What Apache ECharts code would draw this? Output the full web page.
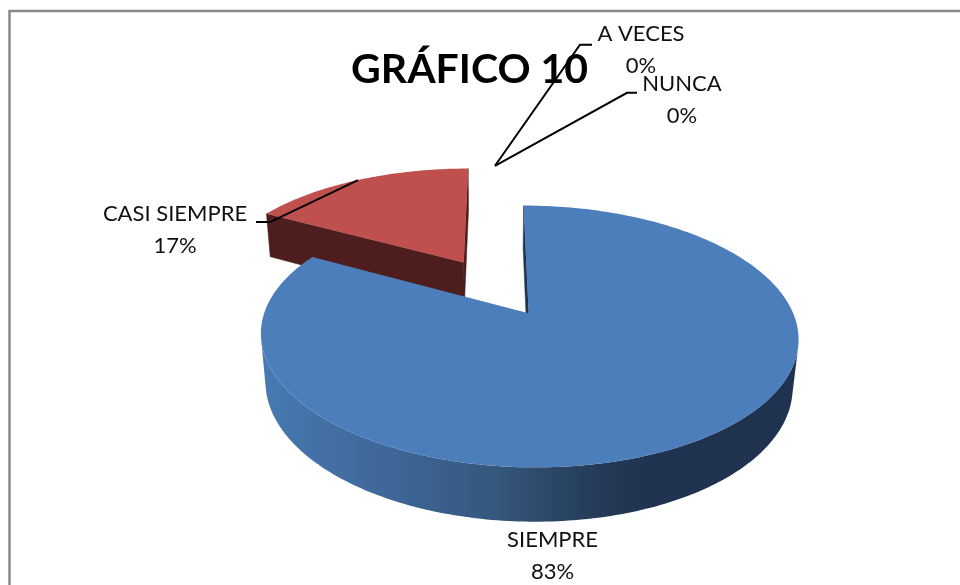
<!DOCTYPE html>
<html>
<head>
<meta charset="utf-8">
<title>GRÁFICO 10</title>
<script src="https://cdn.jsdelivr.net/npm/echarts@6/dist/echarts.min.js"></script>
<style>
  html, body { margin: 0; padding: 0; background: #fff; }
  #chart { width: 960px; height: 585px; }
</style>
</head>
<body>
<div id="chart"></div>
<script>
// data
const categories = ['SIEMPRE', 'CASI SIEMPRE', 'A VECES', 'NUNCA'];
const values = [83, 17, 0, 0];
const percentLabels = ['83%', '17%', '0%', '0%'];

// slice colours: top face, cut face
const topColors = ['#4c7ebb', '#c0504d', '#9bbb59', '#8064a2'];
const faceColors = ['#1f3350', '#4d1e1d', '#4d5e2c', '#403251'];

// label placement, offsets from the slice's outer edge at its mid angle
const labelLayout = [
  { leader: null, tx: -141, ty: 106 },
  { leader: [[-88, 42], [-102, 42]], tx: -183, ty: 42 },
  { leader: [[85, -121], [97, -121]], tx: 146, ty: -123 },
  { leader: [[132, -73], [142, -73]], tx: 187, ty: -73 }
];

// simple perspective camera for the 3D pie
const view = {
  cx: 495, cy: 287, F: 1325, D: 5.2,
  tilt: 27.5 * Math.PI / 180, H: 0.21, explode: 0.25
};
const ca = Math.cos(view.tilt), sa = Math.sin(view.tilt);
const cam = [0, view.D * sa, view.D * ca];

function project(X, Y, Z) {
  const yc = Y * ca - Z * sa;
  const d = view.D - (Z * ca + Y * sa);
  return [view.cx + view.F * X / d, view.cy - view.F * yc / d];
}

const total = values.reduce((a, b) => a + b, 0);
const startAngles = [];
values.reduce((acc, v, i) => { startAngles[i] = acc / total * 2 * Math.PI; return acc + v; }, 0);

const wallGradient = {
  type: 'linear', x: 262, y: 0, x2: 797, y2: 0, global: true,
  colorStops: [
    { offset: 0, color: '#4779b3' },
    { offset: 0.26, color: '#3e6594' },
    { offset: 0.445, color: '#34567b' },
    { offset: 0.54, color: '#2c4767' },
    { offset: 0.63, color: '#243a58' },
    { offset: 0.73, color: '#1f3350' },
    { offset: 1, color: '#1f3350' }
  ]
};

const labelFont = '22px Lato';

function renderSlice(params, api) {
  const i = params.dataIndex;
  const v = api.value(0);
  const a0 = startAngles[i];
  const a1 = a0 + v / total * 2 * Math.PI;
  const mid = (a0 + a1) / 2;
  const ex = view.explode * Math.sin(mid);
  const ez = -view.explode * Math.cos(mid);
  const H = view.H;
  const pt = (a, r, Y) => project(ex + r * Math.sin(a), Y, ez - r * Math.cos(a));
  const base = Math.round(ez * 100) + 200;
  const children = [];

  if (v > 0) {
    const n = Math.max(2, Math.ceil((a1 - a0) / (Math.PI / 180)));
    const angs = [];
    for (let k = 0; k <= n; k++) angs.push(a0 + (a1 - a0) * k / n);
    const top = angs.map(a => pt(a, 1, 0));
    const bot = angs.map(a => pt(a, 1, -H));
    const apexTop = project(ex, 0, ez), apexBot = project(ex, -H, ez);

    // cut faces
    [[a0, a0 - Math.PI / 2], [a1, a1 + Math.PI / 2]].forEach(([a, na]) => {
      const px = ex + 0.5 * Math.sin(a), pz = ez - 0.5 * Math.cos(a);
      const dot = Math.sin(na) * (cam[0] - px) - Math.cos(na) * (cam[2] - pz);
      if (dot > 0) {
        children.push({
          type: 'polygon', z2: base,
          shape: { points: [apexTop, pt(a, 1, 0), pt(a, 1, -H), apexBot] },
          style: { fill: faceColors[i], stroke: faceColors[i], lineWidth: 0.5 }
        });
      }
    });

    // outer wall, only the parts that face the camera
    let run = null;
    const flush = () => {
      if (run && run.length > 1) {
        const pts = run.map(k => top[k]).concat(run.slice().reverse().map(k => bot[k]));
        children.push({
          type: 'polygon', z2: base + 1,
          shape: { points: pts },
          style: { fill: i === 0 ? wallGradient : faceColors[i] }
        });
      }
      run = null;
    };
    for (let k = 0; k < n; k++) {
      const a = (angs[k] + angs[k + 1]) / 2;
      const px = ex + Math.sin(a), pz = ez - Math.cos(a);
      const dot = Math.sin(a) * (cam[0] - px) - Math.cos(a) * (cam[2] - pz);
      if (dot > 0) {
        if (!run) run = [k];
        run.push(k + 1);
      } else {
        flush();
      }
    }
    flush();

    // top face
    children.push({
      type: 'polygon', z2: base + 2,
      shape: { points: [apexTop].concat(top) },
      style: { fill: topColors[i] }
    });
  }

  // label with leader line
  const anchor = pt(mid, 1, 0);
  const lay = labelLayout[i];
  if (lay.leader) {
    children.push({
      type: 'polyline', z2: 500,
      shape: { points: [anchor].concat(lay.leader.map(p => [anchor[0] + p[0], anchor[1] + p[1]])) },
      style: { stroke: '#000', lineWidth: 2, fill: null }
    });
  }
  const lx = anchor[0] + lay.tx, ly = anchor[1] + lay.ty;
  [categories[i], percentLabels[i]].forEach((t, j) => {
    children.push({
      type: 'text', z2: 501,
      style: {
        text: t, x: lx, y: ly - 8.5 + j * 32,
        font: labelFont, fill: '#111', align: 'center', verticalAlign: 'middle'
      }
    });
  });

  return { type: 'group', children };
}

const chart = echarts.init(document.getElementById('chart'));
chart.setOption({
  animation: false,
  title: {
    text: 'GRÁFICO 10',
    left: 346, top: 44,
    textStyle: { fontFamily: 'Lato', fontWeight: 'bold', fontSize: 41, color: '#000' }
  },
  graphic: [{
    type: 'rect', z: -1,
    shape: { x: 9.5, y: 11, width: 1000, height: 1000 },
    style: { fill: null, stroke: '#8a8a8a', lineWidth: 2.5 }
  }],
  series: [{
    type: 'custom',
    coordinateSystem: 'none',
    renderItem: renderSlice,
    data: values.map((v, i) => ({ name: categories[i], value: v }))
  }]
});
</script>
</body>
</html>
